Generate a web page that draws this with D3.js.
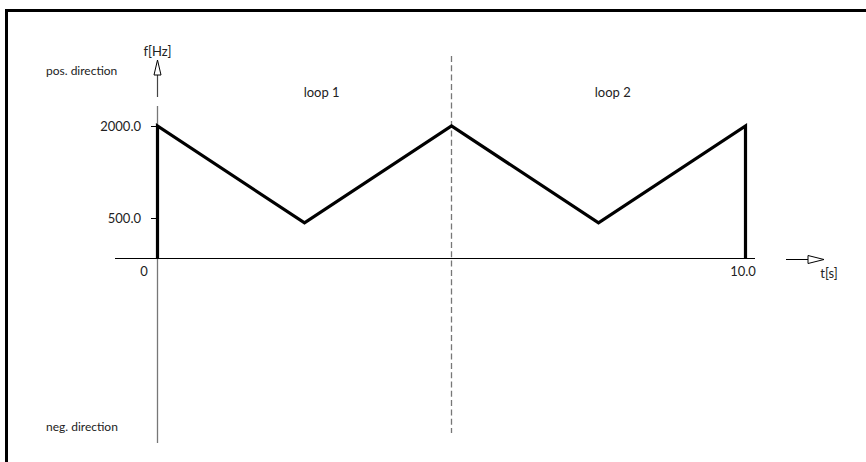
<!DOCTYPE html>
<html><head><meta charset="utf-8">
<script src="https://cdn.jsdelivr.net/npm/d3@7"></script>
<style>html,body{margin:0;padding:0;background:#fff;}svg{display:block;}</style>
</head><body>
<script>
// Data
const times = [0, 0, 2.5, 5, 7.5, 10, 10];
const freqs = [0, 2000, 440, 2000, 440, 2000, 0];
const yTickValues = [500, 2000];
const yTickLabels = ["500.0", "2000.0"];
const xTickValues = [0, 10];
const xTickLabels = ["0", "10.0"];
const loopNames = ["loop 1", "loop 2"];
const loopCenters = [2.8, 7.75];
const loopBoundary = [5];

const W = 866, H = 462;
const FONT = "Lato, 'DejaVu Sans', sans-serif";
const svg = d3.select("body").append("svg").attr("width", W).attr("height", H);

const x = d3.scaleLinear().domain([0, 10]).range([157, 745]);
// schematic (non-uniform) frequency scale
const y = d3.scaleLinear().domain([-2000, 0, 500, 2000, 2400]).range([443, 258, 218, 126, 97]);

// frame
svg.append("line").attr("x1", 6.5).attr("x2", 6.5).attr("y1", 9).attr("y2", H)
  .attr("stroke", "#000").attr("stroke-width", 3);
svg.append("line").attr("x1", 5).attr("x2", W).attr("y1", 10.5).attr("y2", 10.5)
  .attr("stroke", "#000").attr("stroke-width", 3);

// dashed loop boundary
svg.selectAll(".bound").data(loopBoundary).enter().append("line")
  .attr("x1", d => x(d) + 0.5).attr("x2", d => x(d) + 0.5)
  .attr("y1", 56).attr("y2", 433)
  .attr("stroke", "#777").attr("stroke-width", 1.3).attr("stroke-dasharray", "6,3.3");

// y axis
const yx = x(0) + 0.5;
svg.append("line").attr("x1", yx).attr("x2", yx).attr("y1", y(2000) - 20).attr("y2", y(-2000))
  .attr("stroke", "#777").attr("stroke-width", 1.3);
svg.append("line").attr("x1", yx).attr("x2", yx).attr("y1", 75).attr("y2", y(2400))
  .attr("stroke", "#444").attr("stroke-width", 1.2);
svg.append("path").attr("d", `M${yx},60 L${yx - 3.5},75 L${yx + 3.5},75 Z`)
  .attr("fill", "#fff").attr("stroke", "#000").attr("stroke-width", 1);
svg.append("text").attr("x", yx).attr("y", 56).attr("text-anchor", "middle")
  .attr("font-family", FONT).attr("font-size", 13).attr("fill", "#222").text("f[Hz]");

// y ticks
yTickValues.forEach((v, i) => {
  svg.append("line").attr("x1", 151).attr("x2", x(0)).attr("y1", y(v) + 0.5).attr("y2", y(v) + 0.5)
    .attr("stroke", "#000").attr("stroke-width", 1);
  svg.append("text").attr("x", 141).attr("y", y(v) + 4.5).attr("text-anchor", "end")
    .attr("font-family", FONT).attr("font-size", 13).attr("fill", "#222").text(yTickLabels[i]);
});

// x axis
svg.append("line").attr("x1", 115).attr("x2", x(10) + 10).attr("y1", y(0) + 0.5).attr("y2", y(0) + 0.5)
  .attr("stroke", "#000").attr("stroke-width", 1);
svg.append("line").attr("x1", 786).attr("x2", 808).attr("y1", y(0) + 1.5).attr("y2", y(0) + 1.5)
  .attr("stroke", "#000").attr("stroke-width", 1);
svg.append("path").attr("d", `M808,${y(0) - 2.5} L824,${y(0) + 1.5} L808,${y(0) + 5.5} Z`)
  .attr("fill", "#fff").attr("stroke", "#000").attr("stroke-width", 1);
svg.append("text").attr("x", 829).attr("y", y(0) + 20).attr("text-anchor", "middle")
  .attr("font-family", FONT).attr("font-size", 13).attr("fill", "#222").text("t[s]");
xTickValues.forEach((v, i) => {
  svg.append("text").attr("x", i === 0 ? x(v) - 13 : x(v) - 2).attr("y", y(0) + 18)
    .attr("text-anchor", "middle")
    .attr("font-family", FONT).attr("font-size", 13).attr("fill", "#222").text(xTickLabels[i]);
});

// direction labels
svg.append("text").attr("x", 46).attr("y", 75).attr("font-family", FONT).attr("font-size", 12)
  .attr("fill", "#222").text("pos. direction");
svg.append("text").attr("x", 46).attr("y", 431).attr("font-family", FONT).attr("font-size", 12)
  .attr("fill", "#222").text("neg. direction");

// loop labels
svg.selectAll(".loop").data(loopNames).enter().append("text")
  .attr("x", (d, i) => x(loopCenters[i])).attr("y", 97).attr("text-anchor", "middle")
  .attr("font-family", FONT).attr("font-size", 13).attr("fill", "#222").text(d => d);

// signal
const line = d3.line().x((d, i) => x(times[i]) + 0.5).y(d => y(d));
svg.append("path").datum(freqs).attr("d", line)
  .attr("fill", "none").attr("stroke", "#000").attr("stroke-width", 3.2)
  .attr("stroke-linejoin", "miter").attr("stroke-linecap", "butt");
</script>
</body></html>
